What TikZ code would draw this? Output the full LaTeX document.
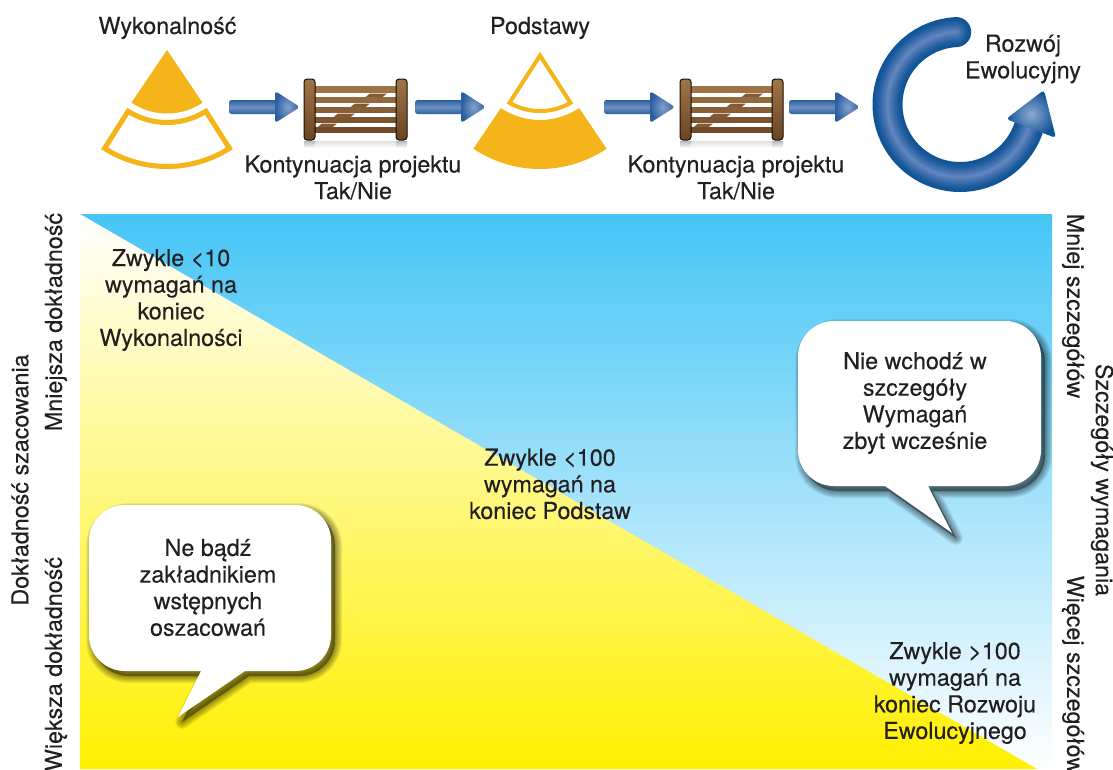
\documentclass[tikz,border=0pt]{standalone}
\usepackage{fontspec}
\setmainfont[FakeBold=0.15]{TeX Gyre Heros}
\definecolor{gold}{HTML}{F4B41A}
\definecolor{ink}{HTML}{231F20}
\definecolor{bdark}{HTML}{0F5497}
\definecolor{blight}{HTML}{5F83BC}
\definecolor{adark}{HTML}{2A5F9F}
\definecolor{alight}{HTML}{6F90C4}
\definecolor{woodl}{HTML}{A07547}
\definecolor{woodd}{HTML}{6A4423}
\definecolor{sky}{HTML}{45C5F5}
\definecolor{sun}{HTML}{FFF000}
\definecolor{sunmid}{HTML}{FFF69D}
\tikzset{
  txt/.style={font=\fontsize{23.3}{26.6}\selectfont,text=ink,align=center,inner sep=0pt},
  post/.style={top color=woodl,bottom color=woodd,draw=black!80!woodd,line width=1pt,rounded corners=3pt},
  brace/.style={fill=woodd!55!woodl},
}
\newcommand\gate[1]{%
 \begin{scope}[shift={(#1,0)}]
  \shade[top color=black!12,bottom color=white] (2,141) rectangle (101,148);
  \shade[top color=black!28,bottom color=white] (0,141) rectangle (11,148);
  \shade[top color=black!28,bottom color=white] (92,141) rectangle (103,148);
  \fill[brace] (66,93.5) -- (83,93.5) -- (78,97.5) -- (61,97.5) -- cycle;
  \fill[brace] (51,103.5) -- (66,103.5) -- (61,107.5) -- (46,107.5) -- cycle;
  \fill[brace] (34,113.5) -- (51,113.5) -- (46,117.5) -- (29,117.5) -- cycle;
  \fill[brace] (18,123.5) -- (33,123.5) -- (28,127.5) -- (13,127.5) -- cycle;
  \foreach \a/\b/\m in {86/93/95,97/103/75,107/113/55,117/123/35,127/133/15}
    \fill[woodl!\m!woodd] (10,\a) rectangle (93,\b);
  \shade[post] (0,79) rectangle (11,140);
  \shade[post] (92,79) rectangle (103,140);
 \end{scope}}
\newcommand\barrow[1]{%
 \begin{scope}[shift={(#1,0)}]
  \shade[top color=adark,bottom color=adark,middle color=alight,rounded corners=2.5pt] (0,100) rectangle (50,114);
  \shade[shading=radial,inner color=alight!85!white,outer color=adark,rounded corners=3pt] (46,91) -- (71,107) -- (46,123) -- cycle;
 \end{scope}}
\newcommand\bubblepath[8]{({#1+36},#2) -- ({#3-36},#2) .. controls ({#3-16},#2) and (#3,{#2+16}) .. (#3,{#2+36}) -- (#3,{#4-36}) .. controls (#3,{#4-16}) and ({#3-16},#4) .. ({#3-36},#4) -- (#6,#4) -- (#7,#8) -- (#5,#4) -- ({#1+36},#4) .. controls ({#1+16},#4) and (#1,{#4-16}) .. (#1,{#4-36}) -- (#1,{#2+36}) .. controls (#1,{#2+16}) and ({#1+16},#2) .. ({#1+36},#2) -- cycle}
\newcommand\bubble[8]{%
 \begin{scope}[shift={(4,5)}]
  \foreach \w in {14,12,10,8,6,4,2}
   \path[draw=black,fill=black,draw opacity=.065,fill opacity=.065,line width=\w pt,line join=round] \bubblepath{#1}{#2}{#3}{#4}{#5}{#6}{#7}{#8};
 \end{scope}
 \fill[white] \bubblepath{#1}{#2}{#3}{#4}{#5}{#6}{#7}{#8};}
\begin{document}
\begin{tikzpicture}[x=1pt,y=-1pt]
\useasboundingbox (0,0) rectangle (1113,769);
\fill[white] (0,0) rectangle (1113,769);
% panel
\shade[top color=sky,bottom color=white] (80,214) rectangle (1052,769);
\shade[top color=white,middle color=sunmid,bottom color=sun] (80,214) -- (1037,769) -- (80,769) -- cycle;
% sectors
\fill[gold] (167,50) -- plot[domain=56:124,samples=30] ({167+63.5*cos(\x)},{50+63.5*sin(\x)}) -- cycle;
\draw[gold,line width=5pt] plot[domain=57.6:122.4,samples=30] ({167+116.5*cos(\x)},{50+116.5*sin(\x)}) -- plot[domain=122.4:57.6,samples=30] ({167+72.5*cos(\x)},{50+72.5*sin(\x)}) -- cycle;
\draw[gold,line width=4pt] (540,55.5) -- plot[domain=60:120,samples=30] ({540+61*cos(\x)},{50+61*sin(\x)}) -- cycle;
\fill[gold] plot[domain=56:124,samples=30] ({540+119*cos(\x)},{50+119*sin(\x)}) -- plot[domain=124:56,samples=30] ({540+70*cos(\x)},{50+70*sin(\x)}) -- cycle;
% gates and arrows
\gate{304}
\gate{680}
\barrow{229}
\barrow{415}
\barrow{604}
\barrow{789}
% evolution ring
\foreach \w/\m in {30/0,26/8,22/20,18/35,14/52,10/70,6/85,3/100}
  \draw[color=blight!\m!bdark,line width=\w pt,line cap=round] plot[domain=-93:-342,samples=90] ({960+72.5*cos(\x)},{104.5+72.5*sin(\x)});
\shade[shading=radial,inner color=blight!70!white,outer color=bdark,rounded corners=3.5pt] (1044,90) -- (1006,119) -- (1056,138) -- cycle;
% bubbles
\bubble{89}{505}{331}{671}{201}{245}{178}{717}
\bubble{798}{321}{1041}{486}{885}{928}{952}{533}
% labels
\node[txt] (wyk) at (167.5,28) {Wykonalność};
\node[txt] (pod) at (540,28) {Podstawy};
\node[txt] (kon1) at (353,177.5) {Kontynuacja projektu\\Tak/Nie};
\node[txt] (kon2) at (736,177.5) {Kontynuacja projektu\\Tak/Nie};
\node[txt] (roz) at (1023,59) {Rozwój\\Ewolucyjny};
\node[txt] (z10) at (171,300) {Zwykle <10\\wymagań na\\koniec\\Wykonalności};
\node[txt] (z100) at (550,484) {Zwykle <100\\wymagań na\\koniec Podstaw};
\node[txt] (ne) at (208,587.5) {Ne bądź\\zakładnikiem\\wstępnych\\oszacowań};
\node[txt] (nie) at (915,403) {Nie wchodź w\\szczegóły\\Wymagań\\zbyt wcześnie};
\node[txt] (zg) at (955,693) {Zwykle >100\\wymagań na\\koniec Rozwoju\\Ewolucyjnego};
\node[txt,rotate=90] (dsz) at (20,480) {Dokładność szacowania};
\node[txt,rotate=90] (mnd) at (56,322) {Mniejsza dokładność};
\node[txt,rotate=90] (wid) at (56,664) {Większa dokładność};
\node[txt,rotate=-90] (mns) at (1073,306) {Mniej szczegółów};
\node[txt,rotate=-90] (szw) at (1102,480) {Szczegóły wymagania};
\node[txt,rotate=-90] (wis) at (1073,675) {Więcej szczegółów};
\end{tikzpicture}
\end{document}
